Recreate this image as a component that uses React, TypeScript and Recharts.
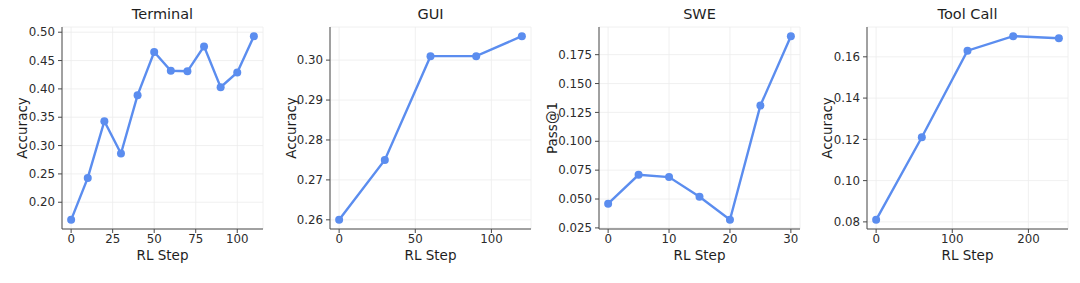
import React from "react";
import { LineChart, Line, XAxis, YAxis, CartesianGrid, Label } from "recharts";

// data
const terminalSteps = [0, 10, 20, 30, 40, 50, 60, 70, 80, 90, 100, 110];
const terminalAcc = [0.169, 0.243, 0.343, 0.286, 0.389, 0.465, 0.432, 0.431, 0.475, 0.403, 0.429, 0.493];

const guiSteps = [0, 30, 60, 90, 120];
const guiAcc = [0.26, 0.275, 0.301, 0.301, 0.306];

const sweSteps = [0, 5, 10, 15, 20, 25, 30];
const swePass = [0.046, 0.071, 0.069, 0.052, 0.032, 0.131, 0.191];

const toolSteps = [0, 60, 120, 180, 240];
const toolAcc = [0.081, 0.121, 0.163, 0.17, 0.169];

const terminalXTicks = [0, 25, 50, 75, 100];
const terminalYTicks = [0.2, 0.25, 0.3, 0.35, 0.4, 0.45, 0.5];
const guiXTicks = [0, 50, 100];
const guiYTicks = [0.26, 0.27, 0.28, 0.29, 0.3];
const sweXTicks = [0, 10, 20, 30];
const sweYTicks = [0.025, 0.05, 0.075, 0.1, 0.125, 0.15, 0.175];
const toolXTicks = [0, 100, 200];
const toolYTicks = [0.08, 0.1, 0.12, 0.14, 0.16];

const LINE = "#5B8DEF";
const FONT = "'DejaVu Sans', sans-serif";
const CHART_W = 268;
const CHART_H = 283;
const Y_AXIS_W = 60;

// matplotlib-like 5% padding around the data
const pad = (vals: number[]): [number, number] => {
  const lo = Math.min(...vals);
  const hi = Math.max(...vals);
  const p = (hi - lo) * 0.05;
  return [lo - p, hi + p];
};

interface PanelProps {
  title: string;
  yLabel: string;
  steps: number[];
  values: number[];
  xTicks: number[];
  yTicks: number[];
  digits: number;
  plotLeft: number;
  labelGap: number;
}

function Panel({ title, yLabel, steps, values, xTicks, yTicks, digits, plotLeft, labelGap }: PanelProps) {
  const data = steps.map((s, i) => ({ step: s, value: values[i] }));
  const left = plotLeft - Y_AXIS_W;
  const tick = { fill: "#2b2b2b", fontSize: 11.8, fontFamily: FONT };

  return (
    <div style={{ position: "absolute", left, top: 0, width: CHART_W, height: CHART_H }}>
      <div
        style={{
          position: "absolute",
          left: Y_AXIS_W,
          width: 201,
          top: 5,
          textAlign: "center",
          fontFamily: FONT,
          fontSize: 14.5,
          color: "#1e1e1e",
          lineHeight: "18px",
        }}
      >
        {title}
      </div>
      <LineChart
        width={CHART_W}
        height={CHART_H}
        data={data}
        margin={{ top: 27, right: CHART_W - Y_AXIS_W - 201, bottom: 24, left: 0 }}
      >
        <CartesianGrid stroke="#ececec" strokeWidth={0.8} />
        <XAxis
          type="number"
          dataKey="step"
          domain={pad(steps)}
          ticks={xTicks}
          allowDataOverflow
          height={30}
          stroke="#4a4a4a"
          tickSize={4}
          tickMargin={2}
          tick={tick}
        >
          <Label
            content={({ viewBox }: any) => (
              <text
                x={viewBox.x + viewBox.width / 2}
                y={viewBox.y + 26}
                textAnchor="middle"
                dominantBaseline="central"
                fontFamily={FONT}
                fontSize={13.5}
                fill="#1e1e1e"
              >
                RL Step
              </text>
            )}
          />
        </XAxis>
        <YAxis
          type="number"
          domain={pad(values)}
          ticks={yTicks}
          allowDataOverflow
          width={Y_AXIS_W}
          stroke="#4a4a4a"
          tickSize={4}
          tickMargin={3}
          tick={tick}
          tickFormatter={(v: number) => v.toFixed(digits)}
        >
          <Label
            content={({ viewBox }: any) => {
              const cx = viewBox.x + viewBox.width - labelGap;
              const cy = viewBox.y + viewBox.height / 2;
              return (
                <text
                  x={cx}
                  y={cy}
                  transform={`rotate(-90 ${cx} ${cy})`}
                  textAnchor="middle"
                  dominantBaseline="central"
                  fontFamily={FONT}
                  fontSize={13.5}
                  fill="#1e1e1e"
                >
                  {yLabel}
                </text>
              );
            }}
          />
        </YAxis>
        <Line
          type="linear"
          dataKey="value"
          stroke={LINE}
          strokeWidth={2.4}
          dot={{ r: 4, fill: LINE, stroke: "none" }}
          activeDot={false}
          isAnimationActive={false}
        />
      </LineChart>
    </div>
  );
}

export default function App() {
  return (
    <div style={{ position: "absolute", left: 0, top: 0, width: 1080, height: 283, background: "#fff" }}>
      <Panel
        title="Terminal"
        yLabel="Accuracy"
        steps={terminalSteps}
        values={terminalAcc}
        xTicks={terminalXTicks}
        yTicks={terminalYTicks}
        digits={2}
        plotLeft={62}
        labelGap={40}
      />
      <Panel
        title="GUI"
        yLabel="Accuracy"
        steps={guiSteps}
        values={guiAcc}
        xTicks={guiXTicks}
        yTicks={guiYTicks}
        digits={2}
        plotLeft={330}
        labelGap={39}
      />
      <Panel
        title="SWE"
        yLabel="Pass@1"
        steps={sweSteps}
        values={swePass}
        xTicks={sweXTicks}
        yTicks={sweYTicks}
        digits={3}
        plotLeft={599}
        labelGap={47}
      />
      <Panel
        title="Tool Call"
        yLabel="Accuracy"
        steps={toolSteps}
        values={toolAcc}
        xTicks={toolXTicks}
        yTicks={toolYTicks}
        digits={2}
        plotLeft={867}
        labelGap={40}
      />
    </div>
  );
}
